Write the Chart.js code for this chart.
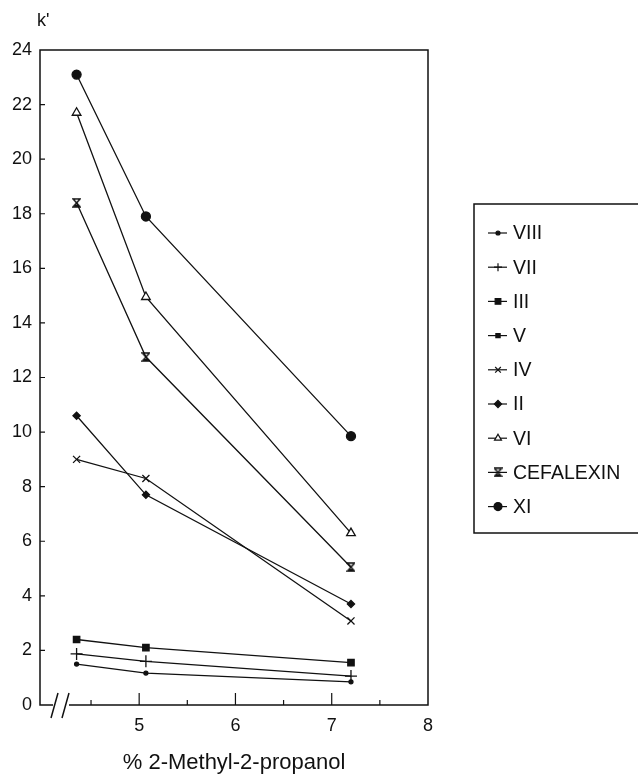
<!DOCTYPE html>
<html>
<head>
<meta charset="utf-8">
<script src="https://cdn.jsdelivr.net/npm/chart.js@4.4.1/dist/chart.umd.min.js"></script>
<style>
  html, body { margin: 0; padding: 0; background: #fff; }
  #wrap { width: 638px; height: 776px; }
</style>
</head>
<body>
<div id="wrap"><canvas id="c" width="638" height="776"></canvas></div>
<script>
// % 2-methyl-2-propanol at which k' was measured
const xValues = [4.35, 5.07, 7.2];

// k' per compound
const viii = [1.5, 1.17, 0.85];
const vii = [1.87, 1.6, 1.06];
const iii = [2.4, 2.1, 1.55];
const v = []; // in the legend, no points visible
const iv = [9.0, 8.3, 3.08];
const ii = [10.6, 7.7, 3.7];
const vi = [21.7, 14.95, 6.3];
const cefalexin = [18.4, 12.75, 5.05];
const xi = [23.1, 17.9, 9.85];

const seriesNames = ['VIII', 'VII', 'III', 'V', 'IV', 'II', 'VI', 'CEFALEXIN', 'XI'];
const seriesValues = [viii, vii, iii, v, iv, ii, vi, cefalexin, xi];

const xTicks = [5, 6, 7, 8];
const xMinorTicks = [4.5, 5.5, 6.5, 7.5];

const INK = '#111';
const FONT = '"Liberation Sans", Arial, sans-serif';

// hourglass marker used for cefalexin
function hourglass() {
  const c = document.createElement('canvas');
  c.width = 9; c.height = 10;
  const g = c.getContext('2d');
  g.strokeStyle = INK; g.fillStyle = INK; g.lineWidth = 1.4;
  g.beginPath();
  g.moveTo(1, 1); g.lineTo(8, 1); g.lineTo(1, 9); g.lineTo(8, 9); g.closePath();
  g.stroke();
  g.fillRect(3, 7, 3, 2);
  return c;
}

const markers = {
  VIII: { pointStyle: 'circle', radius: 2, fill: INK },
  VII: { pointStyle: 'cross', radius: 6, fill: INK },
  III: { pointStyle: 'rect', radius: 4.5, fill: INK },
  V: { pointStyle: 'rect', radius: 3, fill: INK },
  IV: { pointStyle: 'crossRot', radius: 5, fill: INK },
  II: { pointStyle: 'rectRot', radius: 3.6, fill: INK },
  VI: { pointStyle: 'triangle', radius: 5, fill: '#fff' },
  CEFALEXIN: { pointStyle: hourglass(), radius: 5, fill: INK },
  XI: { pointStyle: 'circle', radius: 4.5, fill: INK },
};

const datasets = seriesNames.map((name, i) => ({
  label: name,
  data: seriesValues[i].map((y, j) => ({ x: xValues[j], y })),
  showLine: true,
  borderColor: INK,
  borderWidth: 1.3,
  pointStyle: markers[name].pointStyle,
  pointRadius: markers[name].radius,
  pointBackgroundColor: markers[name].fill,
  pointBorderColor: INK,
  pointBorderWidth: 1.3,
}));

// frame with the axis break, inward ticks, k' label and boxed legend
const decorations = {
  id: 'decorations',
  afterDraw(chart) {
    const { ctx, chartArea: a, scales: { x, y } } = chart;
    ctx.save();
    ctx.strokeStyle = INK;
    ctx.lineWidth = 1.5;
    ctx.beginPath();
    ctx.moveTo(a.left + 13, a.bottom);
    ctx.lineTo(a.left, a.bottom);
    ctx.lineTo(a.left, a.top);
    ctx.lineTo(a.right, a.top);
    ctx.lineTo(a.right, a.bottom);
    ctx.lineTo(a.left + 29, a.bottom);
    // break marks
    ctx.moveTo(a.left + 11, a.bottom + 13); ctx.lineTo(a.left + 18, a.bottom - 12);
    ctx.moveTo(a.left + 22, a.bottom + 13); ctx.lineTo(a.left + 29, a.bottom - 12);
    ctx.stroke();

    ctx.lineWidth = 1.2;
    ctx.beginPath();
    xTicks.slice(0, 3).forEach(t => {
      const px = x.getPixelForValue(t);
      ctx.moveTo(px, a.bottom); ctx.lineTo(px, a.bottom - 12);
    });
    xMinorTicks.forEach(t => {
      const px = x.getPixelForValue(t);
      ctx.moveTo(px, a.bottom); ctx.lineTo(px, a.bottom - 5);
    });
    for (let t = 2; t < 24; t += 2) {
      const py = y.getPixelForValue(t);
      ctx.moveTo(a.left, py); ctx.lineTo(a.left + 5, py);
    }
    ctx.stroke();

    ctx.fillStyle = INK;
    ctx.font = '18px ' + FONT;
    ctx.textBaseline = 'middle';
    ctx.fillText("k'", 37, 21);

    // legend
    const box = { left: 474, top: 204, right: 645, bottom: 533 };
    ctx.lineWidth = 1.5;
    ctx.strokeRect(box.left, box.top, box.right - box.left, box.bottom - box.top);
    ctx.font = '19.5px ' + FONT;
    chart.data.datasets.forEach((ds, i) => {
      const cy = 233 + i * 34.2;
      ctx.lineWidth = 1.2;
      ctx.beginPath();
      ctx.moveTo(488, cy); ctx.lineTo(507, cy);
      ctx.stroke();
      ctx.fillStyle = ds.pointBackgroundColor;
      ctx.strokeStyle = INK;
      Chart.helpers.drawPoint(ctx, {
        pointStyle: ds.pointStyle,
        radius: Math.min(ds.pointRadius, 4),
        borderWidth: 1.2,
        rotation: 0,
      }, 498, cy);
      ctx.fillStyle = INK;
      ctx.fillText(ds.label, 513, cy + 1);
    });
    ctx.restore();
  },
};

new Chart(document.getElementById('c'), {
  type: 'scatter',
  data: { datasets },
  options: {
    responsive: false,
    animation: false,
    layout: { padding: { top: 50, right: 210, bottom: 0, left: 0 } },
    plugins: {
      legend: { display: false },
      tooltip: { enabled: false },
    },
    scales: {
      x: {
        type: 'linear',
        min: 3.97,
        max: 8,
        afterBuildTicks: s => { s.ticks = xTicks.map(value => ({ value })); },
        afterFit: s => { s.height = 71; },
        grid: { display: false, drawTicks: false },
        border: { display: false },
        ticks: { color: INK, font: { family: FONT, size: 18 }, padding: 10 },
        title: {
          display: true,
          text: '% 2-Methyl-2-propanol',
          color: INK,
          font: { family: FONT, size: 22 },
          padding: { top: 0, bottom: 0 },
        },
      },
      y: {
        min: 0,
        max: 24,
        ticks: { stepSize: 2, color: INK, font: { family: FONT, size: 18 }, padding: 8 },
        afterFit: s => { s.width = 40; },
        grid: { display: false, drawTicks: false },
        border: { display: false },
      },
    },
  },
  plugins: [decorations],
});
</script>
</body>
</html>
